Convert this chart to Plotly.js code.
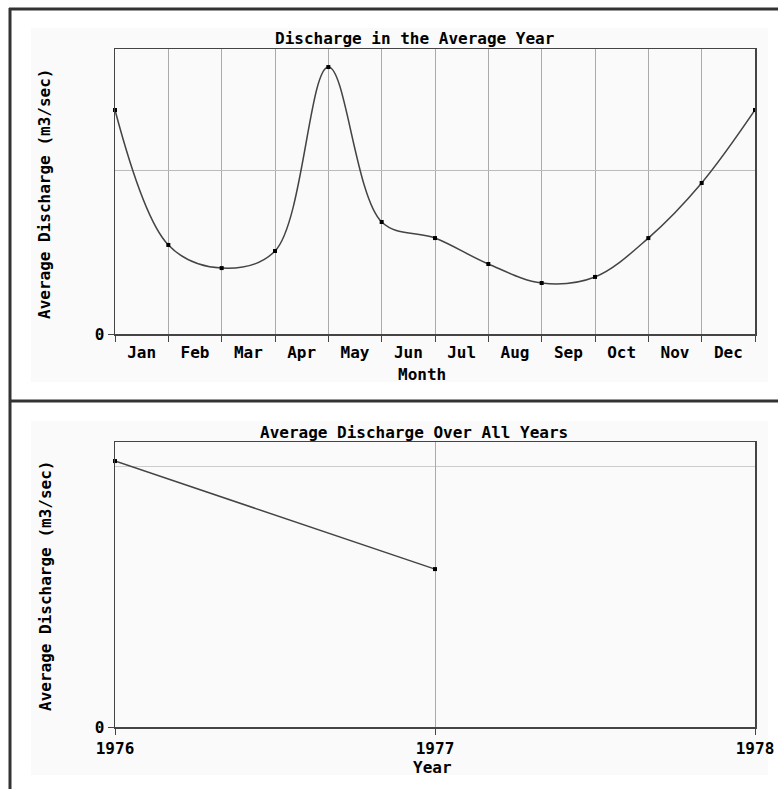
<!DOCTYPE html>
<html>
<head>
<meta charset="utf-8">
<script src="https://cdn.plot.ly/plotly-3.0.1.min.js"></script>
<style>html,body{margin:0;padding:0;background:#fff;}#chart{width:778px;height:789px;}</style>
</head>
<body>
<div id="chart"></div>
<script>
// ---- data ----
const months = ["Jan","Feb","Mar","Apr","May","Jun","Jul","Aug","Sep","Oct","Nov","Dec"];
const monthPos = [0,1,2,3,4,5,6,7,8,9,10,11,12];           // month boundaries (13th point = next Jan)
const monthlyDischarge = [136.6,54.3,40.2,50.6,162.8,68.3,58.5,42.7,31.1,34.8,58.5,92.1,136.6];
const years = [1976,1977];
const yearlyDischarge = [101.9,60.5];
const yearTicks = [1976,1977,1978];
const refLevelTop = [100];
const refLevelBottom = [100];

// ---- helpers (pixel -> paper) ----
const W = 778, H = 789;
const px = x => x / W;
const py = y => 1 - y / H;

const font = {family: "DejaVu Sans Mono", size: 16, color: "#000", weight: "bold"};
const monthCenters = months.map((m, i) => i + 0.5);

const traces = [
  {
    x: monthPos, y: monthlyDischarge, xaxis: "x", yaxis: "y",
    type: "scatter", mode: "lines+markers",
    line: {color: "#444", width: 1.5, shape: "spline", smoothing: 1},
    marker: {symbol: "square", size: 4, color: "#000"},
    cliponaxis: false
  },
  {
    x: years, y: yearlyDischarge, xaxis: "x2", yaxis: "y2",
    type: "scatter", mode: "lines+markers",
    line: {color: "#444", width: 1.5},
    marker: {symbol: "square", size: 4, color: "#000"},
    cliponaxis: false
  }
];

const axisCommon = {
  showline: true, mirror: true, linecolor: "#444", linewidth: 1.5,
  zeroline: false, tickfont: font, tickcolor: "#444", fixedrange: true
};

const layout = {
  width: W, height: H,
  margin: {l: 0, r: 0, t: 0, b: 0, pad: 0},
  paper_bgcolor: "#fff", plot_bgcolor: "#fff",
  showlegend: false, hovermode: false,
  font: font,
  xaxis: Object.assign({}, axisCommon, {
    domain: [px(115), px(755)], anchor: "y", range: [0, 12],
    tickmode: "array", tickvals: monthCenters, ticktext: months,
    ticks: "", showgrid: false, ticklabelstandoff: 3,
    minor: {tickmode: "array", tickvals: monthPos, ticks: "outside", ticklen: 6,
            tickcolor: "#444", showgrid: true, gridcolor: "#aaa", gridwidth: 1}
  }),
  yaxis: Object.assign({}, axisCommon, {
    domain: [py(334), py(49)], anchor: "x", range: [0, 173.8],
    tickmode: "array", tickvals: [0], ticktext: ["0"],
    ticks: "outside", ticklen: 6, showgrid: false,
    minor: {tickmode: "array", tickvals: refLevelTop, ticks: "", showgrid: true, gridcolor: "#bbb", gridwidth: 1}
  }),
  xaxis2: Object.assign({}, axisCommon, {
    domain: [px(115), px(755)], anchor: "y2", range: [1976, 1978],
    tickmode: "array", tickvals: yearTicks, ticktext: yearTicks.map(String),
    ticks: "outside", ticklen: 6, showgrid: true, gridcolor: "#aaa", gridwidth: 1
  }),
  yaxis2: Object.assign({}, axisCommon, {
    domain: [py(727), py(442)], anchor: "x2", range: [0, 109.2],
    tickmode: "array", tickvals: [0], ticktext: ["0"],
    ticks: "outside", ticklen: 6, showgrid: false,
    minor: {tickmode: "array", tickvals: refLevelBottom, ticks: "", showgrid: true, gridcolor: "#ccc", gridwidth: 1}
  }),
  shapes: [
    {type: "rect", xref: "paper", yref: "paper", x0: px(31), x1: px(768), y0: py(382), y1: py(28),
     fillcolor: "#fafafa", line: {width: 0}, layer: "below"},
    {type: "rect", xref: "paper", yref: "paper", x0: px(31), x1: px(768), y0: py(775), y1: py(421),
     fillcolor: "#fafafa", line: {width: 0}, layer: "below"},
    {type: "line", xref: "paper", yref: "paper", x0: px(9), x1: 1, y0: py(9), y1: py(9), line: {color: "#333", width: 3}},
    {type: "line", xref: "paper", yref: "paper", x0: px(10), x1: px(10), y0: py(8), y1: 0, line: {color: "#333", width: 3}},
    {type: "line", xref: "paper", yref: "paper", x0: px(10), x1: 1, y0: py(401), y1: py(401), line: {color: "#333", width: 3}}
  ],
  annotations: [
    {text: "Discharge in the Average Year", xref: "paper", yref: "paper", x: px(414), y: py(38),
     xanchor: "center", yanchor: "middle", showarrow: false, font: font},
    {text: "Month", xref: "paper", yref: "paper", x: px(422), y: py(374),
     xanchor: "center", yanchor: "middle", showarrow: false, font: font},
    {text: "Average Discharge (m3/sec)", xref: "paper", yref: "paper", x: px(45), y: py(194),
     xanchor: "center", yanchor: "middle", textangle: -90, showarrow: false, font: font},
    {text: "Average Discharge Over All Years", xref: "paper", yref: "paper", x: px(414), y: py(432),
     xanchor: "center", yanchor: "middle", showarrow: false, font: font},
    {text: "Year", xref: "paper", yref: "paper", x: px(432), y: py(767),
     xanchor: "center", yanchor: "middle", showarrow: false, font: font},
    {text: "Average Discharge (m3/sec)", xref: "paper", yref: "paper", x: px(45), y: py(586),
     xanchor: "center", yanchor: "middle", textangle: -90, showarrow: false, font: font}
  ]
};

Plotly.newPlot("chart", traces, layout, {staticPlot: true, displayModeBar: false});
</script>
</body>
</html>
